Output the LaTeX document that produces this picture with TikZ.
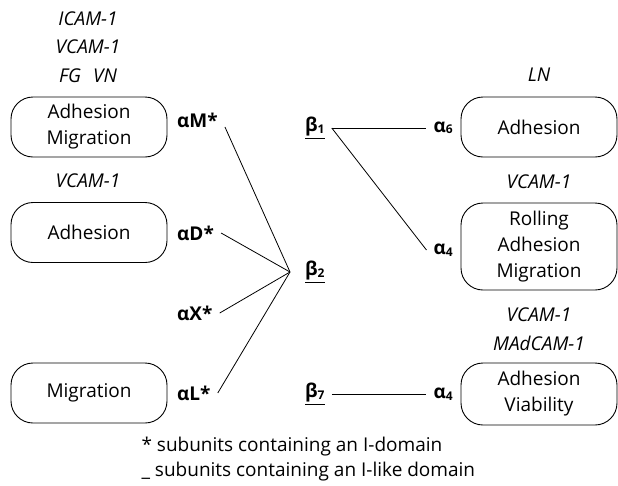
\documentclass[tikz,border=0pt]{standalone}
\usepackage{fontspec}
\setmainfont{Open Sans}
\usepackage{tikz}
\usetikzlibrary{positioning}
\newcommand{\sbs}[1]{\raisebox{-1.5pt}{\fontsize{12}{12}\selectfont #1}}

\begin{document}
\begin{tikzpicture}[x=1pt,y=-1pt,
  font=\fontsize{19}{26}\selectfont,
  role/.style={draw,line width=0.9pt,rounded corners=22pt,align=center,
               minimum width=156pt,minimum height=60pt,inner sep=2pt},
  chain/.style={font=\fontsize{19}{26}\selectfont\bfseries,inner xsep=7pt,inner ysep=4pt},
  lig/.style={font=\fontsize{19}{28.5}\selectfont\itshape,align=center,inner sep=0pt},
  link/.style={line width=0.8pt}
]
\useasboundingbox (0,0) rectangle (618,485);

% left column: functions of the beta-2 integrins
\node[role] (adhmig) at (89,127) {Adhesion\\Migration};
\node[role] (adhL) at (89,232.5) {Adhesion};
\node[role] (migL) at (89,393) {Migration};
\node[lig] (ligM) at (88,47) {ICAM-1\\VCAM-1\\FG\hspace{12pt}VN};
\node[lig] (ligD) at (88,181) {VCAM-1};

% right column: functions of the alpha-4 / alpha-6 integrins
\node[role] (adhR) at (539,127) {Adhesion};
\node[role,minimum height=87pt] (rollR) at (539,246.5) {Rolling\\Adhesion\\Migration};
\node[role,minimum height=62pt] (viaR) at (539,394) {Adhesion\\Viability};
\node[lig] (ln) at (539,75) {LN};
\node[lig] (ligR) at (539,182) {VCAM-1};
\node[lig] (ligV) at (539,329) {VCAM-1\\MAdCAM-1};

% alpha subunits
\node[chain,anchor=west] (aM) at (170,120) {αM*};
\node[chain,anchor=west] (aD) at (170,233) {αD*};
\node[chain,anchor=west] (aX) at (170,313) {αX*};
\node[chain,anchor=west] (aL) at (170,393) {αL*};
\node[chain,anchor=east] (a6) at (460,128) {α\sbs{6}};
\node[chain,anchor=east] (a4u) at (460,250) {α\sbs{4}};
\node[chain,anchor=east] (a4l) at (460,394) {α\sbs{4}};

% beta subunits
\node[chain,anchor=west] (b1) at (298,128) {\underline{β\sbs{1}}};
\node[chain,anchor=west] (b2) at (298,272) {\underline{β\sbs{2}}};
\node[chain,anchor=west] (b7) at (298,394) {\underline{β\sbs{7}}};
\coordinate[left=8pt of b2] (hub);

\draw[link] ([yshift=-7pt]aM.east) -- (hub);
\draw[link] (aD.east) -- (hub);
\draw[link] (aX.east) -- (hub);
\draw[link] (aL.east) -- (hub);
\draw[link] (b1.east) -- (a6.west);
\draw[link] (b1.east) -- (a4u.west);
\draw[link] (b7.east) -- (a4l.west);

% legend
\node[anchor=west] (noteI) at (138,447) {* subunits containing an I-domain};
\node[anchor=west] (noteL) at (138,472) {\_ subunits containing an I-like domain};
\end{tikzpicture}
\end{document}
